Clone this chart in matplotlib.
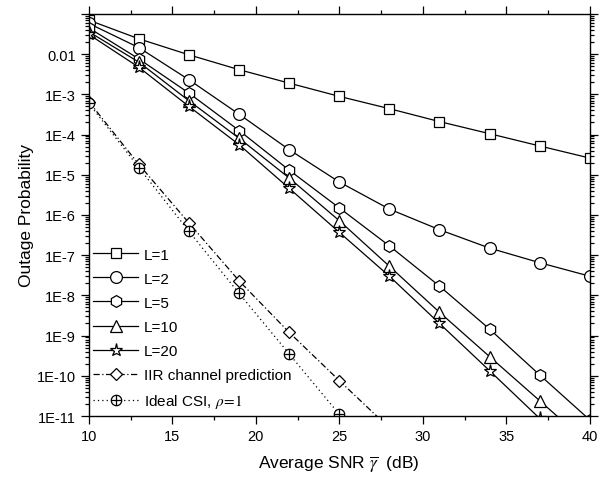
import numpy as np
import matplotlib
matplotlib.use('Agg')
import matplotlib.pyplot as plt
from matplotlib.ticker import FixedLocator, LogLocator, NullFormatter, MultipleLocator
from matplotlib.legend_handler import HandlerTuple

plt.rcParams['font.family'] = ['Liberation Sans', 'DejaVu Sans']
plt.rcParams['mathtext.fontset'] = 'stix'

# SNR points (dB)
snr = [10, 13, 16, 19, 22, 25, 28, 31, 34, 37, 40]

# outage probability
p_L1 = [7.0e-2, 2.4e-2, 9.6e-3, 4.1e-3, 1.9e-3, 8.9e-4, 4.4e-4, 2.1e-4, 1.05e-4, 5.2e-5, 2.6e-5]
p_L2 = [5.8e-2, 1.45e-2, 2.3e-3, 3.2e-4, 4.2e-5, 6.6e-6, 1.4e-6, 4.3e-7, 1.5e-7, 6.5e-8, 3.0e-8]
p_L5 = [4.5e-2, 7.6e-3, 1.07e-3, 1.26e-4, 1.3e-5, 1.5e-6, 1.7e-7, 1.7e-8, 1.45e-9, 1.05e-10, 8e-12]
p_L10 = [3.6e-2, 6.3e-3, 6.9e-4, 8.1e-5, 8.3e-6, 7.2e-7, 5.3e-8, 3.8e-9, 3.0e-10, 2.4e-11, 1.9e-12]
p_L20 = [3.1e-2, 4.7e-3, 5.0e-4, 5.6e-5, 4.6e-6, 3.7e-7, 3.0e-8, 2.0e-9, 1.34e-10, 8.7e-12, 6e-13]

snr_csi = [10, 13, 16, 19, 22, 25, 28]
p_iir = [6.6e-4, 1.8e-5, 6.3e-7, 2.3e-8, 1.2e-9, 7.6e-11, 5e-12]
p_ideal = [6.0e-4, 1.5e-5, 3.9e-7, 1.12e-8, 3.5e-10, 1.1e-11, 4e-13]

fig = plt.figure(figsize=(6, 4.81), dpi=100)
ax = fig.add_axes([0.148, 0.133, 0.835, 0.836])

mk = dict(color='black', lw=0.9, markerfacecolor='white', markeredgecolor='black',
          markeredgewidth=0.9, markersize=7.5)

h1, = ax.plot(snr, p_L1, marker='s', label='L=1', **mk)
h2, = ax.plot(snr, p_L2, marker='o', label='L=2', **dict(mk, markersize=8.5))
h5, = ax.plot(snr, p_L5, marker='h', label='L=5', **dict(mk, markersize=8.5))
h10, = ax.plot(snr, p_L10, marker='^', label='L=10', **dict(mk, markersize=8.5))
h20, = ax.plot(snr, p_L20, marker='*', label='L=20', **dict(mk, markersize=9.5))
hiir, = ax.plot(snr_csi, p_iir, marker='D', label='IIR channel prediction',
                linestyle=(0, (5, 2, 1, 2)), **dict(mk, markersize=6.5))
hid_o, = ax.plot(snr_csi, p_ideal, marker='o', linestyle=(0, (1, 2.5)), **dict(mk, markersize=7.5))
hid_p, = ax.plot(snr_csi, p_ideal, marker='+', linestyle='none', color='black',
                 markersize=7.5, markeredgewidth=0.9)

ax.set_yscale('log')
ax.set_xlim(10, 40)
ax.set_ylim(1e-11, 0.1)

ax.xaxis.set_major_locator(MultipleLocator(5))
ax.xaxis.set_minor_locator(MultipleLocator(2.5))
yt = [1e-11, 1e-10, 1e-9, 1e-8, 1e-7, 1e-6, 1e-5, 1e-4, 1e-3, 1e-2, 1e-1]
ylabels = ['1E-11', '1E-10', '1E-9', '1E-8', '1E-7', '1E-6', '1E-5', '1E-4', '1E-3', '0.01', '']
ax.yaxis.set_major_locator(FixedLocator(yt))
ax.set_yticklabels(ylabels)
ax.yaxis.set_minor_locator(LogLocator(base=10, subs=np.arange(2, 10), numticks=20))
ax.yaxis.set_minor_formatter(NullFormatter())

ax.tick_params(which='both', direction='out', top=True, right=True, labelsize=10.5, width=0.9)
ax.tick_params(which='major', length=6)
ax.tick_params(which='minor', length=3)
for s in ax.spines.values():
    s.set_linewidth(1.0)

ax.set_xlabel(r'Average SNR $\overline{\gamma}$  (dB)', fontsize=12.5, labelpad=7)
ax.set_ylabel('Outage Probability', fontsize=12.5, labelpad=2)

leg = ax.legend([h1, h2, h5, h10, h20, hiir, (hid_o, hid_p)],
                ['L=1', 'L=2', 'L=5', 'L=10', 'L=20', 'IIR channel prediction',
                 r'Ideal CSI, $\rho\!=\!1$'],
                handler_map={tuple: HandlerTuple(ndivide=1, pad=0)},
                loc='lower left', bbox_to_anchor=(-0.012, -0.012), frameon=False,
                fontsize=11, handlelength=2.9, handletextpad=0.4, labelspacing=0.66,
                borderaxespad=0.3)

fig.savefig('out.png', dpi=100)
